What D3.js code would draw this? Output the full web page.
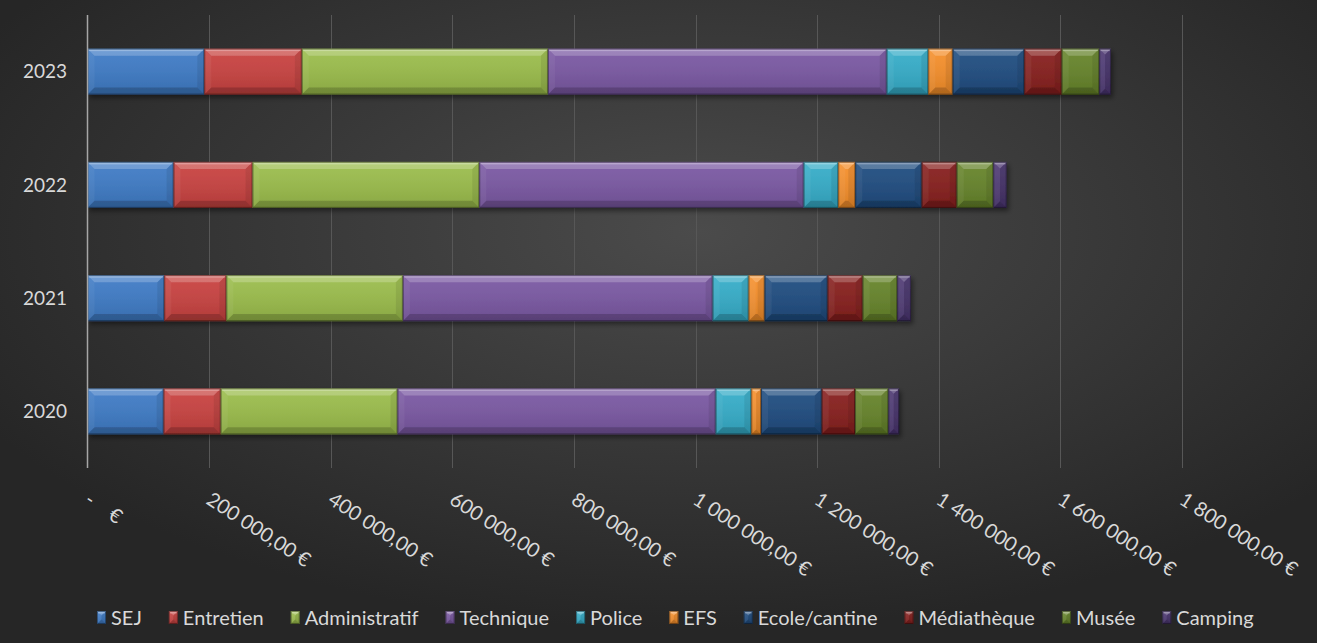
<!DOCTYPE html>
<html>
<head>
<meta charset="utf-8">
<script src="https://cdn.jsdelivr.net/npm/d3@7"></script>
<style>
  html, body { margin: 0; padding: 0; background: #2b2b2b; }
  svg { display: block; }
  text { font-family: Lato, "Noto Sans", sans-serif; fill: #d9d9d9; }
</style>
</head>
<body>
<div id="chart"></div>
<script>
// data (euros), one array per category, years in the order of `years`
const years = ["2020", "2021", "2022", "2023"];
const categories = ["SEJ", "Entretien", "Administratif", "Technique", "Police", "EFS",
                    "Ecole/cantine", "Médiathèque", "Musée", "Camping"];
const sej            = [125200, 126300, 141600, 192100];
const entretien      = [93900, 102100, 129800, 160400];
const administratif  = [290800, 290300, 373000, 404800];
const technique      = [523300, 509500, 533500, 557200];
const police         = [58600, 59200, 56900, 68400];
const efs            = [16000, 26300, 28000, 40100];
const ecole          = [99800, 103600, 109200, 117800];
const mediatheque    = [54800, 57600, 57600, 61500];
const musee          = [54800, 56900, 60200, 61800];
const camping        = [17600, 22500, 22000, 19200];
const xTicks = [0, 200000, 400000, 600000, 800000, 1000000, 1200000, 1400000, 1600000, 1800000];

const colors = ["#3e7bc6", "#c94240", "#9bbd4b", "#7a58a3", "#35adc9", "#f68f2a",
                "#1f4c80", "#871f1d", "#66842a", "#4a3570"];

const W = 1317, H = 643;
const series = [sej, entretien, administratif, technique, police, efs, ecole, mediatheque, musee, camping];

// build table rows {year, SEJ: .., ...}
const table = years.map((y, i) => {
  let row = {year: y};
  categories.forEach((c, k) => { row[c] = series[k][i]; });
  return row;
});
const stacked = d3.stack().keys(categories)(table);

const svg = d3.select("#chart").append("svg")
  .attr("width", W).attr("height", H);

const defs = svg.append("defs");
const bg = defs.append("radialGradient").attr("id", "bg")
  .attr("cx", 0.53).attr("cy", 0.36).attr("r", 0.62)
  .attr("gradientUnits", "objectBoundingBox");
bg.append("stop").attr("offset", "0%").attr("stop-color", "#4b4b4b");
bg.append("stop").attr("offset", "100%").attr("stop-color", "#262626");

const face = defs.append("linearGradient").attr("id", "face")
  .attr("x1", 0).attr("y1", 0).attr("x2", 0).attr("y2", 1);
face.append("stop").attr("offset", "0%").attr("stop-color", "#fff").attr("stop-opacity", 0.06);
face.append("stop").attr("offset", "100%").attr("stop-color", "#000").attr("stop-opacity", 0.12);

const shadow = defs.append("filter").attr("id", "shadow")
  .attr("x", "-5%").attr("y", "-20%").attr("width", "110%").attr("height", "150%");
shadow.append("feDropShadow").attr("dx", 2).attr("dy", 3).attr("stdDeviation", 2.5)
  .attr("flood-color", "#000").attr("flood-opacity", 0.45);

svg.append("rect").attr("width", W).attr("height", H).attr("fill", "url(#bg)");

const plotTop = 15, plotBottom = 468;
const x = d3.scaleLinear().domain([0, 2000000]).range([87.5, 1303.5]);
const y = d3.scaleBand().domain(years.slice().reverse())
  .range([plotTop, plotBottom]).paddingInner(0.594).paddingOuter(0.297);

const fr = d3.formatLocale({decimal: ",", thousands: "\u00a0", grouping: [3], currency: ["", "\u00a0€"]});
const euro = (v) => v === 0 ? "-\u00a0\u00a0\u00a0\u00a0€" : fr.format("$,.2f")(v).replace(/\u00a0/g, " ");

// gridlines
svg.append("g").selectAll("line").data(xTicks.filter(d => d > 0)).join("line")
  .attr("x1", d => Math.round(x(d)) + 0.5).attr("x2", d => Math.round(x(d)) + 0.5)
  .attr("y1", plotTop).attr("y2", plotBottom)
  .attr("stroke", "#575757").attr("stroke-width", 1);

// value axis labels (rotated)
svg.append("g").selectAll("text").data(xTicks).join("text")
  .attr("transform", d => `translate(${x(d) - 4},503) rotate(33)`)
  .attr("font-size", 20)
  .style("white-space", "pre")
  .text(euro);

// bars
function bevel(g, x0, x1, y0, y1, color) {
  const b = Math.min(7, (x1 - x0) / 2);
  g.append("rect").attr("x", x0).attr("y", y0).attr("width", x1 - x0).attr("height", y1 - y0)
    .attr("fill", color);
  g.append("rect").attr("x", x0).attr("y", y0).attr("width", x1 - x0).attr("height", y1 - y0)
    .attr("fill", "url(#face)");
  const poly = (pts, fill, op) => g.append("polygon")
    .attr("points", pts.map(p => p.join(",")).join(" "))
    .attr("fill", fill).attr("fill-opacity", op);
  poly([[x0, y0], [x1, y0], [x1 - b, y0 + b], [x0 + b, y0 + b]], "#fff", 0.22);
  poly([[x0, y1], [x1, y1], [x1 - b, y1 - b], [x0 + b, y1 - b]], "#000", 0.18);
  poly([[x0, y0], [x0 + b, y0 + b], [x0 + b, y1 - b], [x0, y1]], "#fff", 0.05);
  poly([[x1, y0], [x1 - b, y0 + b], [x1 - b, y1 - b], [x1, y1]], "#000", 0.08);
  g.append("rect").attr("x", x0 + 1).attr("y", y0 + 1).attr("width", Math.max(0, x1 - x0 - 2)).attr("height", 1.5)
    .attr("fill", "#fff").attr("fill-opacity", 0.28);
  g.append("rect").attr("x", x0 + 0.5).attr("y", y0 + 0.5).attr("width", x1 - x0 - 1).attr("height", y1 - y0 - 1)
    .attr("fill", "none").attr("stroke", "#000").attr("stroke-opacity", 0.35).attr("stroke-width", 1);
}

const bars = svg.append("g").attr("filter", "url(#shadow)");
stacked.forEach((layer, k) => {
  layer.forEach(seg => {
    const yy = y(seg.data.year);
    bevel(bars.append("g"), x(seg[0]), x(seg[1]), yy, yy + y.bandwidth(), colors[k]);
  });
});

// category axis line
svg.append("line").attr("x1", 87.5).attr("x2", 87.5).attr("y1", plotTop).attr("y2", plotBottom)
  .attr("stroke", "#a6a6a6").attr("stroke-width", 1.5);

// year labels
svg.append("g").selectAll("text").data(years).join("text")
  .attr("x", 67).attr("y", d => y(d) + y.bandwidth() / 2)
  .attr("dy", "0.36em").attr("text-anchor", "end").attr("font-size", 19)
  .text(d => d);

// legend
const legend = svg.append("g");
let lx = 97;
categories.forEach((c, k) => {
  const g = legend.append("g");
  const m = g.append("g");
  bevel(m, lx, lx + 9, 611, 624, colors[k]);
  const t = g.append("text").attr("x", lx + 14).attr("y", 617.5).attr("dy", "0.36em")
    .attr("font-size", 20).text(c);
  lx += 14 + t.node().getComputedTextLength() + 27;
});
</script>
</body>
</html>
